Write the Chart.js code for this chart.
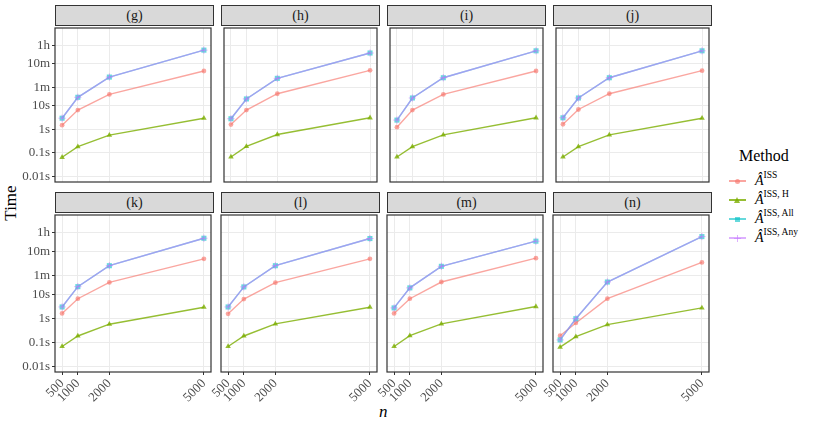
<!DOCTYPE html>
<html>
<head>
<meta charset="utf-8">
<script src="https://cdn.jsdelivr.net/npm/chart.js@4.4.0/dist/chart.umd.min.js"></script>
<style>
  body { margin: 0; background: #fff; width: 814px; height: 425px; position: relative; overflow: hidden; font-family: "Liberation Serif", serif; }
  canvas { position: absolute; }
  .strip { position: absolute; height: 21px; background: #D9D9D9; border: 1.2px solid #333; box-sizing: border-box; text-align: center; font-size: 14px; line-height: 19px; color: #1A1A1A; }
  .lab { position: absolute; color: #000; }
  .key-line { position: absolute; width: 17px; height: 1.4px; }
  .key-pt { position: absolute; }
  .legtxt { position: absolute; font-size: 14px; color: #000; white-space: nowrap; }
  .legtxt sup { font-size: 9.5px; position: relative; top: -1px; }
</style>
</head>
<body>
<div class="lab" style="left:-9px; top:193px; font-size:17px; transform: rotate(-90deg); width:40px; text-align:center;">Time</div>
<div class="lab" style="left:379px; top:402px; font-size:17px; font-style:italic;">n</div>

<div class="lab" style="left:739px; top:147px; font-size:16px;">Method</div>
<div id="legend"></div>

<script>
// sample sizes on the x axis
const nVals = [500, 1000, 2000, 5000];
const panelNames = ["(g)", "(h)", "(i)", "(j)", "(k)", "(l)", "(m)", "(n)"];

// y ticks (seconds) and their labels
const tickVals = [0.01, 0.1, 1, 10, 60, 600, 3600];
const tickLabels = ["0.01s", "0.1s", "1s", "10s", "1m", "10m", "1h"];

// run times in seconds, one row per panel (g) .. (n)
const issTimes = [
  [1.48, 6.5, 30.3, 299],
  [1.58, 6.5, 32.3, 319],
  [1.22, 6.5, 30.3, 299],
  [1.63, 6.9, 32.3, 310],
  [1.58, 6.5, 31.1, 299],
  [1.52, 6.27, 30.3, 299],
  [1.58, 6.5, 32.3, 319],
  [0.186, 0.634, 6.5, 213]
];
const issHTimes = [
  [0.064, 0.181, 0.561, 2.94],
  [0.066, 0.186, 0.593, 3.06],
  [0.066, 0.181, 0.577, 3.06],
  [0.066, 0.181, 0.577, 2.94],
  [0.066, 0.181, 0.561, 2.86],
  [0.066, 0.181, 0.577, 2.86],
  [0.066, 0.186, 0.577, 3.06],
  [0.062, 0.169, 0.54, 2.68]
];
const issAllTimes = [
  [2.94, 22.8, 165, 2314],
  [2.79, 19.4, 146, 1745],
  [2.44, 21.3, 155, 2167],
  [3.06, 21.3, 155, 2167],
  [2.94, 20.7, 155, 2167],
  [2.94, 20.2, 155, 2106],
  [2.68, 18.4, 146, 1633],
  [0.124, 0.95, 32.3, 2542]
];
const issAnyTimes = [
  [2.94, 22.8, 165, 2314],
  [2.79, 19.4, 146, 1745],
  [2.44, 21.3, 155, 2167],
  [3.06, 21.3, 155, 2167],
  [2.94, 20.7, 155, 2167],
  [2.94, 20.2, 155, 2106],
  [2.68, 18.4, 146, 1633],
  [0.124, 0.95, 32.3, 2542]
];

const RED = "rgba(248,118,109,0.65)";
const GREEN = "rgba(124,174,0,0.8)";
const TEAL = "rgba(0,191,196,0.6)";
const PURPLE = "rgba(199,124,255,0.6)";

const PANEL_W = 159;
const PANEL_H = 160;
const colLeft = [55, 221, 387, 553];
const rowTop = [25, 212];
const tickFont = { family: "Liberation Serif", size: 13 };

// draws the dark frame round each panel
const panelBorder = {
  id: "panelBorder",
  afterDraw(chart) {
    const a = chart.chartArea;
    const ctx = chart.ctx;
    ctx.save();
    ctx.strokeStyle = "#333333";
    ctx.lineWidth = 1.2;
    ctx.strokeRect(a.left, a.top, a.right - a.left, a.bottom - a.top);
    ctx.restore();
  }
};

function makeDataset(label, vals, color, style, radius, order) {
  return {
    label: label,
    data: vals.map((v, i) => ({ x: nVals[i], y: v })),
    borderColor: color,
    backgroundColor: color,
    pointBackgroundColor: color,
    pointBorderColor: color,
    pointStyle: style,
    pointRadius: radius,
    pointBorderWidth: style === "cross" ? 1 : 0,
    borderWidth: 1.4,
    tension: 0,
    order: order
  };
}

function makePanel(idx) {
  const col = idx % 4;
  const row = Math.floor(idx / 4);
  const first = col === 0;
  const bottom = row === 1;
  const yW = first ? 55 : 0;
  // inner bottom panels need room on the left for the rotated "500"
  const padL = first ? 0 : (bottom ? 26 : 2);
  const xH = bottom ? 45 : 0;
  const w = padL + yW + PANEL_W + 2;
  const h = 2 + PANEL_H + xH + 2;

  const canvas = document.createElement("canvas");
  canvas.width = w;
  canvas.height = h;
  canvas.style.width = w + "px";
  canvas.style.height = h + "px";
  canvas.style.left = (colLeft[col] - yW - padL) + "px";
  canvas.style.top = (rowTop[row] - 2) + "px";
  document.body.appendChild(canvas);

  const strip = document.createElement("div");
  strip.className = "strip";
  strip.style.left = colLeft[col] + "px";
  strip.style.top = (rowTop[row] - 20) + "px";
  strip.style.width = PANEL_W + "px";
  strip.textContent = panelNames[idx];
  document.body.appendChild(strip);

  new Chart(canvas.getContext("2d"), {
    type: "line",
    data: {
      datasets: [
        makeDataset("ISS", issTimes[idx], RED, "circle", 2.4, 4),
        makeDataset("ISS, H", issHTimes[idx], GREEN, "triangle", 3.2, 3),
        makeDataset("ISS, All", issAllTimes[idx], TEAL, "rect", 3.6, 2),
        makeDataset("ISS, Any", issAnyTimes[idx], PURPLE, "cross", 3.6, 1)
      ]
    },
    options: {
      responsive: false,
      animation: false,
      layout: { padding: { left: padL, right: 2, top: 2, bottom: 2 } },
      plugins: { legend: { display: false }, tooltip: { enabled: false } },
      scales: {
        x: {
          type: "linear",
          min: 275,
          max: 5225,
          afterBuildTicks: (scale) => { scale.ticks = nVals.map(v => ({ value: v })); },
          afterFit: (scale) => {
            scale.height = xH;
            scale.paddingLeft = 0;
            scale.paddingRight = 0;
          },
          border: { display: false },
          grid: { color: "#EBEBEB", lineWidth: 1, drawTicks: bottom, tickLength: 3, tickColor: "#333333" },
          ticks: {
            display: bottom,
            font: tickFont,
            color: "#4D4D4D",
            minRotation: 45,
            maxRotation: 45,
            padding: 1,
            callback: (v) => String(v)
          }
        },
        y: {
          type: "logarithmic",
          min: 0.00568,
          max: 20230,
          afterBuildTicks: (scale) => { scale.ticks = tickVals.map(v => ({ value: v })); },
          afterFit: (scale) => {
            scale.width = yW;
            scale.paddingTop = 0;
            scale.paddingBottom = 0;
          },
          border: { display: false },
          grid: { color: "#EBEBEB", lineWidth: 1, drawTicks: first, tickLength: 3, tickColor: "#333333" },
          ticks: {
            display: first,
            font: tickFont,
            color: "#4D4D4D",
            padding: 2,
            callback: (v) => {
              const k = tickVals.indexOf(v);
              return k >= 0 ? tickLabels[k] : "";
            }
          }
        }
      }
    },
    plugins: [panelBorder]
  });
}

for (let i = 0; i < panelNames.length; i++) {
  makePanel(i);
}

// legend keys and labels
const legendItems = [
  { sup: "ISS", color: RED, shape: "circle" },
  { sup: "ISS, H", color: GREEN, shape: "triangle" },
  { sup: "ISS, All", color: TEAL, shape: "square" },
  { sup: "ISS, Any", color: PURPLE, shape: "plus" }
];
const legendY = [181, 200, 219, 238];
const legend = document.getElementById("legend");
legendItems.forEach((item, i) => {
  const y = legendY[i];
  const line = document.createElement("div");
  line.className = "key-line";
  line.style.left = "729px";
  line.style.top = (y - 0.7) + "px";
  line.style.background = item.color;
  legend.appendChild(line);

  const pt = document.createElement("div");
  pt.className = "key-pt";
  if (item.shape === "circle") {
    pt.style.cssText = `left:735px;top:${y - 2.5}px;width:5px;height:5px;border-radius:50%;background:${item.color};`;
  } else if (item.shape === "triangle") {
    pt.style.cssText = `left:734px;top:${y - 3}px;width:0;height:0;border-left:3.5px solid transparent;border-right:3.5px solid transparent;border-bottom:6px solid ${item.color};`;
  } else if (item.shape === "square") {
    pt.style.cssText = `left:735px;top:${y - 2.5}px;width:5px;height:5px;background:${item.color};`;
  } else {
    pt.style.cssText = `left:734px;top:${y - 3.5}px;width:7px;height:7px;background:linear-gradient(${item.color},${item.color}) center/7px 1px no-repeat, linear-gradient(${item.color},${item.color}) center/1px 7px no-repeat;`;
  }
  legend.appendChild(pt);

  const txt = document.createElement("div");
  txt.className = "legtxt";
  txt.style.left = "755px";
  txt.style.top = (y - 10) + "px";
  txt.innerHTML = `<i>Â</i><sup>${item.sup}</sup>`;
  legend.appendChild(txt);
});
</script>
</body>
</html>
